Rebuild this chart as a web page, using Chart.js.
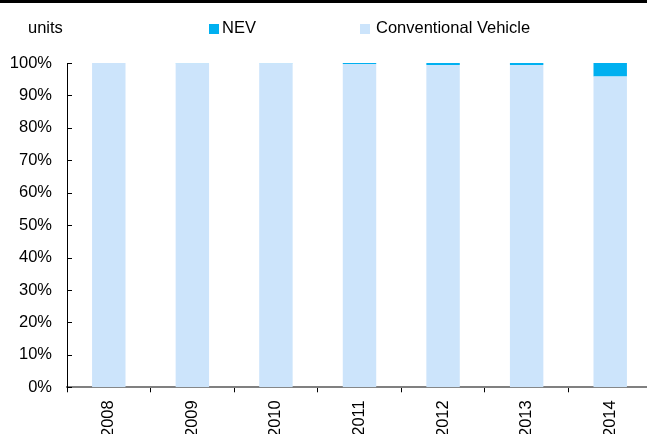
<!DOCTYPE html>
<html>
<head>
<meta charset="utf-8">
<script src="https://cdn.jsdelivr.net/npm/chart.js@4"></script>
<style>
  html, body { margin: 0; padding: 0; background: #fff; overflow: hidden; }
  #wrap { position: relative; width: 647px; height: 434px; overflow: hidden; }
  #chart { position: absolute; left: 0; top: 0; }
  #topline { position: absolute; left: 0; top: 0; width: 647px; height: 3px; background: #000; }
  .lbl { position: absolute; font: 16.5px "Liberation Sans", Arial, sans-serif; color: #000; white-space: nowrap; }
  .sw { position: absolute; width: 10px; height: 10px; }
</style>
</head>
<body>
<div id="wrap">
  <!-- canvas is a bit larger than the window: the year labels run off the bottom in the original -->
  <canvas id="chart" width="652" height="445"></canvas>
  <div id="topline"></div>
  <div class="lbl" style="left:28px; top:18px;">units</div>
  <div class="sw" style="left:209px; top:24px; background:#00B0F0;"></div>
  <div class="lbl" style="left:222px; top:18px;">NEV</div>
  <div class="sw" style="left:360px; top:24px; background:#CCE4FB;"></div>
  <div class="lbl" style="left:376px; top:18px;">Conventional Vehicle</div>
</div>
<script>
// share of sales, %
const years = ["2008", "2009", "2010", "2011", "2012", "2013", "2014"];
const nevShare = [0, 0.05, 0.05, 0.3, 0.6, 0.6, 4.2];
const convShare = [100, 99.95, 99.95, 99.7, 99.4, 99.4, 95.8];

const font = { family: "'Liberation Sans', Arial, sans-serif", size: 16.5 };

// small inward tick marks on the y axis
const yTicksInside = {
  id: "yTicksInside",
  afterDatasetsDraw(chart) {
    const { ctx, scales: { y } } = chart;
    ctx.save();
    ctx.strokeStyle = "#000";
    ctx.lineWidth = 1;
    for (const t of y.ticks) {
      const py = Math.round(y.getPixelForValue(t.value)) + 0.5;
      ctx.beginPath();
      ctx.moveTo(y.right, py);
      ctx.lineTo(y.right + 5, py);
      ctx.stroke();
    }
    ctx.restore();
  }
};

new Chart(document.getElementById("chart"), {
  type: "bar",
  data: {
    labels: years,
    datasets: [
      { label: "Conventional Vehicle", data: convShare, backgroundColor: "#CCE4FB", barPercentage: 0.4, categoryPercentage: 1 },
      { label: "NEV", data: nevShare, backgroundColor: "#00B0F0", barPercentage: 0.4, categoryPercentage: 1 }
    ]
  },
  options: {
    responsive: false,
    animation: false,
    maintainAspectRatio: false,
    layout: { padding: { top: 63, left: 0, right: 0, bottom: 0 } },
    plugins: { legend: { display: false }, tooltip: { enabled: false } },
    scales: {
      x: {
        stacked: true,
        border: { display: true, color: "#808080", width: 2 },
        grid: { display: true, drawOnChartArea: false, drawTicks: true, tickLength: 5, color: "#000", offset: true },
        ticks: { color: "#000", font, minRotation: 90, maxRotation: 90, padding: 8, autoSkip: false }
      },
      y: {
        stacked: true,
        min: 0, max: 100,
        border: { display: true, color: "#000", width: 1 },
        grid: { display: false, drawTicks: false },
        afterFit(scale) { scale.width = 67; },
        ticks: { stepSize: 10, color: "#000", font, padding: 15, callback: v => v + "%" }
      }
    }
  },
  plugins: [yTicksInside]
});
</script>
</body>
</html>
